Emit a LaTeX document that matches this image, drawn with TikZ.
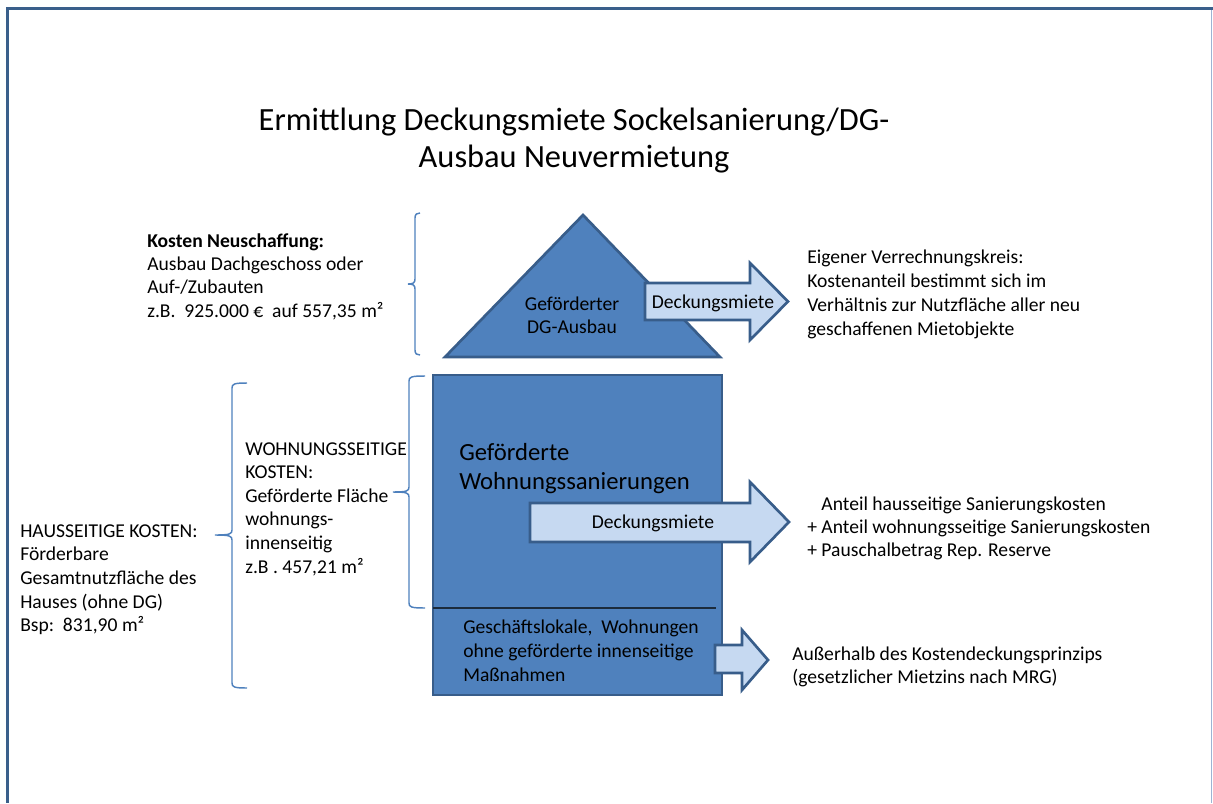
\documentclass[tikz,border=0pt]{standalone}
\usepackage{fontspec}
\setmainfont{Carlito}
\newcommand{\mylines}[1]{\begin{tabular}[t]{@{}l@{}}#1\end{tabular}}
\newcommand{\mycenter}[1]{\begin{tabular}[t]{@{}c@{}}#1\end{tabular}}
\definecolor{fillblue}{HTML}{4F81BD}
\definecolor{edgeblue}{HTML}{385D8A}
\definecolor{lightarrow}{HTML}{C6D9F1}
\definecolor{bracecol}{HTML}{4F81BD}
\definecolor{framecol}{HTML}{3A5F8B}
\definecolor{frameright}{HTML}{9DB3D3}
\definecolor{divider}{HTML}{1C2B3C}
\newcommand{\mybrace}[6]{%
 \draw[bracestyle] (#1,#4) .. controls (#2+2,#4) and (#2,#4+1) .. (#2,#4+5) -- (#2,#5-5) .. controls (#2,#5-1) and (#2-2,#5) .. (#3,#5) .. controls (#2-2,#5) and (#2,#5+1) .. (#2,#5+5) -- (#2,#6-5) .. controls (#2,#6-1) and (#2+2,#6) .. (#1,#6);}
\begin{document}
\begin{tikzpicture}[x=0.75pt,y=-0.75pt,
  shapestyle/.style={fill=fillblue, draw=edgeblue, line width=2pt, line join=miter},
  arrowstyle/.style={fill=lightarrow, draw=edgeblue, line width=2pt, line join=miter},
  bracestyle/.style={draw=bracecol, line width=1.1pt},
  txt/.style={anchor=base west, inner sep=0pt, font=\fontsize{14.7}{18}\selectfont},
  ctxt/.style={anchor=base, inner sep=0pt, font=\fontsize{14.7}{18}\selectfont}]
\useasboundingbox (0,0) rectangle (1213,803);
% frame
\draw[framecol, line width=2.25pt] (6,8.5) -- (1213,8.5);
\draw[framecol, line width=2.25pt] (7.5,7) -- (7.5,803);
\draw[frameright, line width=0.9pt] (1211.5,10) -- (1211.5,803);
% title
\node[anchor=base, inner sep=0pt, font=\fontsize{24.3}{27.75}\selectfont] (title) at (574,130)
  {\mycenter{Ermittlung Deckungsmiete Sockelsanierung/DG-\\Ausbau Neuvermietung}};
% roof
\draw[shapestyle] (445,357) -- (583,215) -- (720,357) -- cycle;
% house body
\draw[shapestyle] (433,375) rectangle (722,695);
\draw[divider, line width=1.5pt] (433,608) -- (716,608);
% arrows
\draw[arrowstyle] (645,283) -- (750,283) -- (750,263) -- (788,301.5) -- (750,340) -- (750,320) -- (645,320) -- cycle;
\draw[arrowstyle] (530,503) -- (750,503) -- (750,482) -- (789,522) -- (750,562) -- (750,542) -- (530,542) -- cycle;
\draw[arrowstyle] (715,645) -- (742,645) -- (742,630) -- (768,660) -- (742,690) -- (742,673) -- (715,673) -- cycle;
% braces
\mybrace{420}{415}{408}{213}{284}{355}
\mybrace{425}{409}{393}{376}{492}{608}
\mybrace{247}{232}{215}{383}{535}{688}
% texts in shapes
\node[ctxt, font=\fontsize{14.7}{17.25}\selectfont] (dgtext) at (572,310) {\mycenter{Geförderter\\DG-Ausbau}};
\node[ctxt] (arrow1text) at (713,308) {Deckungsmiete};
\node[txt, font=\fontsize{18.5}{21.75}\selectfont] (wohntext) at (459,460) {\mylines{Geförderte\\Wohnungssanierungen}};
\node[ctxt] (arrow2text) at (653,528) {Deckungsmiete};
\node[txt] (geschtext) at (463,633) {\mylines{Geschäftslokale,~~Wohnungen\\ohne geförderte innenseitige\\Maßnahmen}};
% left texts
\node[txt, font=\fontsize{14.7}{17.5}\selectfont] (neutext) at (147,247) {\mylines{\textbf{Kosten Neuschaffung:}\\Ausbau Dachgeschoss oder\\Auf-/Zubauten\\z.B.~~925.000 €~~auf 557,35 m²}};
\node[txt, font=\fontsize{14.7}{17.7}\selectfont] (wstext) at (245,455) {\mylines{WOHNUNGSSEITIGE\\KOSTEN:\\Geförderte Fläche\\wohnungs-\\innenseitig\\z.B . 457,21 m²}};
\node[txt, font=\fontsize{14.7}{17.8}\selectfont] (hstext) at (20,537) {\mylines{HAUSSEITIGE KOSTEN:\\Förderbare\\Gesamtnutzfläche des\\Hauses (ohne DG)\\Bsp:~~831,90 m²}};
% right texts
\node[txt] (righttop) at (807,263) {\mylines{Eigener Verrechnungskreis:\\Kostenanteil bestimmt sich im\\Verhältnis zur Nutzfläche aller neu\\geschaffenen Mietobjekte}};
\node[txt, font=\fontsize{14.7}{17.25}\selectfont] (rightmid) at (807,510) {\mylines{\hphantom{+ }Anteil hausseitige Sanierungskosten\\+ Anteil wohnungsseitige Sanierungskosten\\+ Pauschalbetrag Rep. Reserve}};
\node[txt, font=\fontsize{14.7}{17.25}\selectfont] (rightbot) at (792,660) {\mylines{Außerhalb des Kostendeckungsprinzips\\(gesetzlicher Mietzins nach MRG)}};
\end{tikzpicture}
\end{document}
